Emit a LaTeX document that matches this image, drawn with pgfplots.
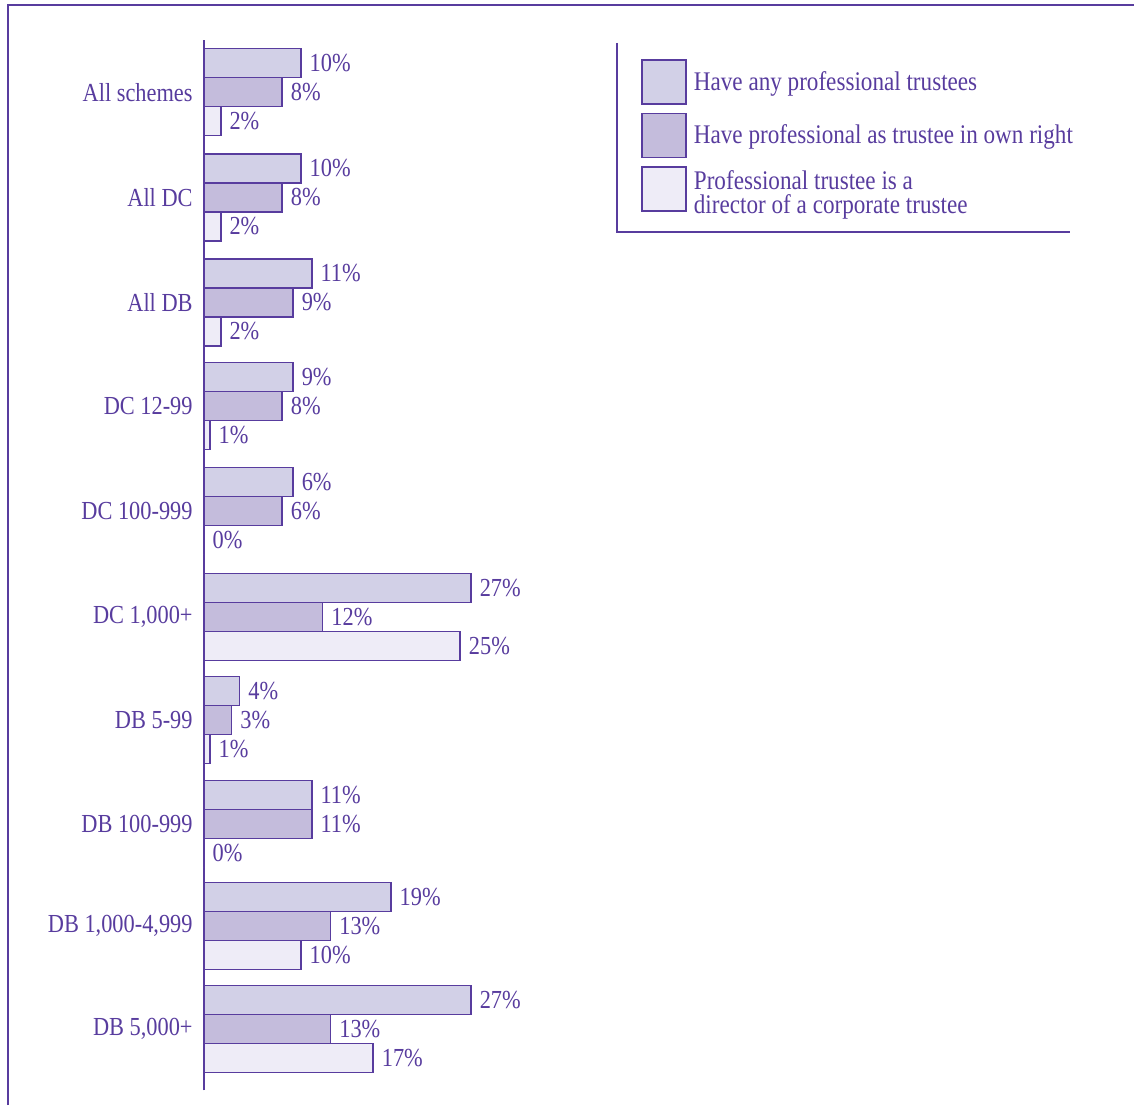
\documentclass[border=0pt]{standalone}
\usepackage{fontspec}
\setmainfont[FakeStretch=0.86]{Liberation Serif}
\usepackage{pgfplots}
\pgfplotsset{compat=1.18}
\definecolor{pp}{RGB}{88,60,158}
\definecolor{fa}{RGB}{210,208,231}
\definecolor{fb}{RGB}{196,188,220}
\definecolor{fc}{RGB}{238,236,247}
\newcommand{\lfont}{\fontsize{13}{12.5}\selectfont}
\newcommand{\gfont}{\fontsize{13.45}{12.2}\selectfont}
\begin{document}
\color{pp}
\begin{tikzpicture}[x=1pt,y=1pt]
\useasboundingbox (-102,-38) rectangle (465,514.5);
\draw[line width=1pt,pp] (-98,-38) -- (-98,512) -- (465,512);
\begin{axis}[
  at={(0,0)}, anchor=origin,
  scale only axis,
  x=4.945pt, y=52.05pt,
  xmin=0, xmax=30, ymin=-0.59, ymax=9.5,
  hide x axis,
  axis y line=left,
  axis line style={-, line width=1pt, pp},
  major tick length=0pt,
  ytick={0,0.989,1.969,2.968,3.958,4.976,5.985,6.98,7.99,9},
  yticklabels={{DB 5,000+},{DB 1,000-4,999},{DB 100-999},{DB 5-99},{DC 1,000+},{DC 100-999},{DC 12-99},{All DB},{All DC},{All schemes}},
  ytick style={draw=none},
  yticklabel style={font=\lfont, text=pp, inner xsep=5.5pt},
  clip=false,
  xbar,
  bar width=14.5pt,
  point meta=explicit symbolic,
  nodes near coords,
  nodes near coords style={font=\lfont, text=pp, anchor=west, inner xsep=4pt},
  legend image code/.code={\draw[#1, line width=0.75pt] (0pt,-11pt) rectangle (22pt,11pt);},
  legend cell align=left,
  legend style={at={(1.392,0.9972)}, anchor=north west, draw=none, fill=none,
    inner xsep=12pt, inner ysep=8pt, row sep=4pt, column sep=1.5pt, font=\gfont, text=pp,
    cells={align=left, inner ysep=0pt}},
]
\addplot[xbar, bar shift=14.5pt, fill=fa, draw=pp, line width=0.75pt] coordinates {
 (27,0) [27\%] (18.9,0.989) [19\%] (10.9,1.969) [11\%] (3.6,2.968) [4\%] (27,3.958) [27\%]
 (9.0,4.976) [6\%] (9.0,5.985) [9\%] (10.9,6.98) [11\%] (9.8,7.99) [10\%] (9.8,9) [10\%]
};
\addlegendentry{Have any professional trustees}
\addplot[xbar, bar shift=0pt, fill=fb, draw=pp, line width=0.75pt] coordinates {
 (12.8,0) [13\%] (12.8,0.989) [13\%] (10.9,1.969) [11\%] (2.8,2.968) [3\%] (12.0,3.958) [12\%]
 (7.9,4.976) [6\%] (7.9,5.985) [8\%] (9.0,6.98) [9\%] (7.9,7.99) [8\%] (7.9,9) [8\%]
};
\addlegendentry{Have professional as trustee in own right}
\addplot[xbar, bar shift=-14.5pt, fill=fc, draw=pp, line width=0.75pt] coordinates {
 (17.1,0) [17\%] (9.8,0.989) [10\%] (0,1.969) [0\%] (0.6,2.968) [1\%] (25.9,3.958) [25\%]
 (0,4.976) [0\%] (0.6,5.985) [1\%] (1.7,6.98) [2\%] (1.7,7.99) [2\%] (1.7,9) [2\%]
};
\addlegendentry{\raisebox{-0.5pt}{\parbox[c][21pt][c]{170pt}{\gfont Professional trustee is a\\director of a corporate trustee}}}
\end{axis}
\draw[line width=0.8pt,pp] (206.5,493) -- (206.5,398.5) -- (433,398.5);
\end{tikzpicture}
\end{document}
